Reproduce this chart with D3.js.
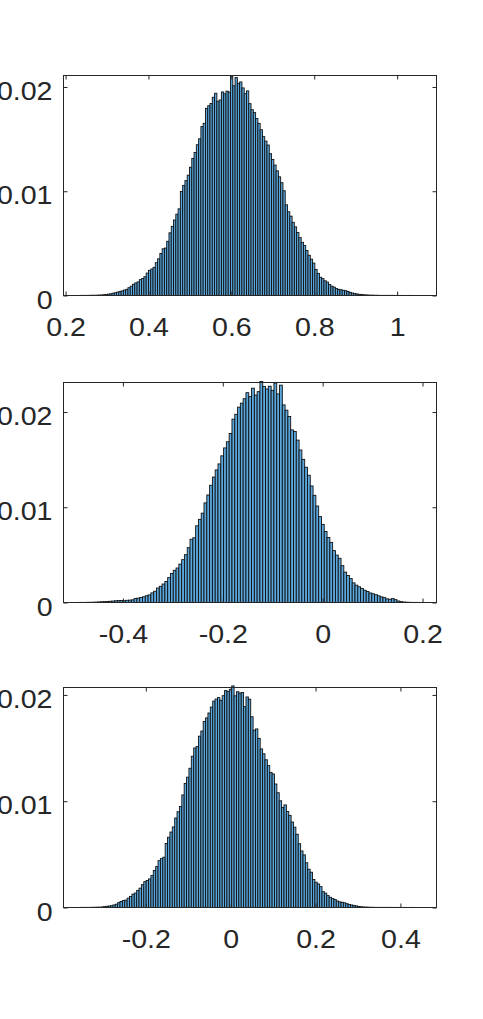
<!DOCTYPE html>
<html>
<head>
<meta charset="utf-8">
<script src="https://cdn.jsdelivr.net/npm/d3@7"></script>
<style>
body { margin: 0; background: #fff; }
</style>
</head>
<body>
<div id="my_dataviz"></div>
<script>
// bin heights are probabilities, written in units of 1e-4

// top histogram
var binStart1 = 0.235, binWidth1 = 0.0055;
var prob1 = [
 0.1,0.1,0.1,0.1,0.2,0.2,0.2,0.3,0.4,0.5,
 0.7,0.9,1.3,1.6,2.2,2.6,3.2,3.9,4.4,5.2,
 5.9,7.5,8.9,10.8,12.1,13.0,15.2,16.3,18.0,21.5,
 24.1,25.4,27.0,31.5,35.2,40.3,44.8,45.5,52.0,60.1,
 66.3,72.4,78.0,83.1,99.8,105.6,110.2,115.4,123.0,131.5,
 137.2,144.6,150.3,162.0,165.1,179.5,182.0,184.2,190.1,194.0,
 186.3,187.5,195.2,193.4,196.0,195.1,210.6,201.2,209.0,203.5,
 204.8,199.1,193.6,196.2,184.0,178.2,175.4,169.8,165.1,159.0,
 152.4,148.1,144.3,136.0,130.5,125.1,119.6,113.8,108.2,100.5,
 87.0,80.3,76.1,70.2,65.8,60.4,55.5,51.0,47.9,43.2,
 38.6,34.8,31.1,25.0,21.2,17.5,16.2,14.1,12.8,10.5,
 8.9,8.0,6.6,5.9,5.5,5.0,4.6,3.8,3.0,2.4,
 1.9,1.5,1.1,0.9,0.7,0.5,0.4,0.3,0.3,0.2,
 0.2,0.1,0.1,0.1,0.1,0.1,0.1,0.1,0.05,0.1,
 0.05,0.1,0.05,0.05,0.1,0.05,0.05,0.05,0.05,0.05
];
var xLim1 = [0.195, 1.095];
var yLim1 = [0, 0.0211];
var xTicks1 = [0.2, 0.4, 0.6, 0.8, 1];
var xTickLabels1 = ["0.2", "0.4", "0.6", "0.8", "1"];

// middle histogram
var binStart2 = -0.4896, binWidth2 = 0.0056;
var prob2 = [
 0.1,0.1,0.1,0.2,0.2,0.3,0.4,0.6,0.8,0.9,
 1.1,1.3,1.5,1.8,2.0,2.1,1.9,2.3,2.5,2.8,
 4.2,4.6,5.3,6.0,7.1,8.0,10.1,11.8,15.2,17.0,
 19.4,22.0,26.1,30.5,33.8,36.2,40.3,45.0,50.2,57.6,
 66.4,68.0,80.5,87.3,93.8,104.6,112.9,123.1,131.7,139.2,
 145.5,154.0,162.3,168.8,177.4,192.5,197.6,205.1,209.3,214.0,
 220.3,216.2,225.0,217.8,221.4,232.0,226.9,224.2,227.1,222.8,
 230.4,219.0,228.2,207.5,201.9,195.3,181.2,179.6,170.5,160.1,
 150.3,142.0,133.6,122.4,112.5,101.3,90.2,82.0,74.6,68.3,
 63.1,54.5,49.8,46.4,38.7,31.9,28.4,25.1,20.6,18.2,
 16.5,14.8,12.9,11.6,10.0,9.1,8.2,7.0,5.9,5.1,
 3.8,3.4,4.1,3.0,1.6,0.9,0.5,0.3,0.2,0.1,
 0.1,0.1
];
var xLim2 = [-0.519, 0.228];
var yLim2 = [0, 0.0231];
var xTicks2 = [-0.4, -0.2, 0, 0.2];
var xTickLabels2 = ["-0.4", "-0.2", "0", "0.2"];

// bottom histogram
var binStart3 = -0.356, binWidth3 = 0.0056;
var prob3 = [
 0.1,0.1,0.1,0.1,0.1,0.2,0.2,0.3,0.3,0.5,
 0.8,1.1,1.4,1.7,2.4,3.1,4.6,5.6,6.5,7.0,
 8.8,10.4,12.5,13.6,16.1,18.2,21.5,24.3,25.4,26.9,
 30.2,34.8,38.5,44.1,46.0,47.3,60.2,66.1,71.0,75.8,
 84.2,90.1,95.0,105.9,116.8,122.6,131.0,142.3,150.1,151.4,
 161.2,166.0,175.1,178.4,183.0,188.6,194.2,196.1,197.5,195.0,
 199.3,204.1,203.2,205.3,208.5,199.2,203.0,201.8,202.3,189.0,
 198.1,196.0,179.5,166.8,168.0,159.1,149.2,144.6,139.0,133.5,
 127.1,125.6,116.2,108.0,100.4,94.1,96.5,90.3,86.7,80.4,
 75.6,68.9,60.0,53.2,49.5,42.1,36.0,33.2,26.4,23.8,
 22.1,19.6,14.9,13.5,11.2,9.6,8.4,7.5,6.1,5.3,
 4.9,4.4,3.6,2.9,2.4,1.9,1.5,1.0,0.7,0.5,
 0.4,0.3,0.2,0.2,0.1,0.1,0.1,0.1,0.1,0.1,
 0.1,0.1,0.05,0.1,0.1,0.05,0.1,0.05,0.05,0.1,
 0.05,0.05,0.05
];
var xLim3 = [-0.394, 0.485];
var yLim3 = [0, 0.0207];
var xTicks3 = [-0.2, 0, 0.2, 0.4];
var xTickLabels3 = ["-0.2", "0", "0.2", "0.4"];

// shared y ticks
var yTicks = [0, 0.01, 0.02];
var yTickLabels = ["0", "0.01", "0.02"];

// table of panels built from the arrays above
var panels = [
  {start: binStart1, bw: binWidth1, prob: prob1, xlim: xLim1, ylim: yLim1, xticks: xTicks1, xlabels: xTickLabels1, top: 75.5},
  {start: binStart2, bw: binWidth2, prob: prob2, xlim: xLim2, ylim: yLim2, xticks: xTicks2, xlabels: xTickLabels2, top: 382.5},
  {start: binStart3, bw: binWidth3, prob: prob3, xlim: xLim3, ylim: yLim3, xticks: xTicks3, xlabels: xTickLabels3, top: 687.5}
];

var left = 63.5, width = 373, height = 220;
var ink = "#262626";
var fontSize = 25.5;
var textStretch = 1.12;

var svg = d3.select("#my_dataviz")
  .append("svg")
  .attr("width", 483)
  .attr("height", 1019);

panels.forEach(function(p) {
  var g = svg.append("g")
    .attr("transform", "translate(" + left + "," + p.top + ")");

  var x = d3.scaleLinear().domain(p.xlim).range([0, width]);
  var y = d3.scaleLinear().domain(p.ylim).range([height, 0]);

  // bars
  g.append("g")
    .selectAll("rect")
    .data(p.prob)
    .enter()
    .append("rect")
      .attr("x", function(d, i) { return x(p.start + i * p.bw); })
      .attr("width", function(d, i) { return x(p.start + (i + 1) * p.bw) - x(p.start + i * p.bw); })
      .attr("y", function(d) { return y(d * 1e-4); })
      .attr("height", function(d) { return y(0) - y(d * 1e-4); })
      .style("fill", "#5aa8de")
      .style("stroke", "#111")
      .style("stroke-width", 0.9);

  // bottom axis with labels, ticks pointing in
  g.append("g")
    .attr("transform", "translate(0," + height + ")")
    .call(d3.axisBottom(x).tickValues(p.xticks)
      .tickFormat(function(d, i) { return p.xlabels[i]; })
      .tickSizeInner(-4).tickSizeOuter(0).tickPadding(22))
    .call(function(a) { a.select(".domain").remove(); })
    .attr("font-size", fontSize)
    .attr("font-family", "'Liberation Sans', Arial, sans-serif")
    .style("color", ink);

  // top axis, ticks only
  g.append("g")
    .call(d3.axisTop(x).tickValues(p.xticks).tickFormat("")
      .tickSizeInner(-4).tickSizeOuter(0))
    .call(function(a) { a.select(".domain").remove(); })
    .style("color", ink);

  // left axis with labels
  g.append("g")
    .call(d3.axisLeft(y).tickValues(yTicks)
      .tickFormat(function(d, i) { return yTickLabels[i]; })
      .tickSizeInner(-4).tickSizeOuter(0).tickPadding(11))
    .call(function(a) { a.select(".domain").remove(); })
    .call(function(a) { a.selectAll("text").attr("dy", "0.49em"); })
    .attr("font-size", fontSize)
    .attr("font-family", "'Liberation Sans', Arial, sans-serif")
    .style("color", ink);

  // right axis, ticks only
  g.append("g")
    .attr("transform", "translate(" + width + ",0)")
    .call(d3.axisRight(y).tickValues(yTicks).tickFormat("")
      .tickSizeInner(-4).tickSizeOuter(0))
    .call(function(a) { a.select(".domain").remove(); })
    .style("color", ink);

  // box
  g.append("rect")
    .attr("width", width)
    .attr("height", height)
    .style("fill", "none")
    .style("stroke", ink)
    .style("stroke-width", 1);
});

// the labels in the picture are a bit wider than plain Arial
svg.selectAll("text").each(function() {
  var w = this.getComputedTextLength();
  d3.select(this)
    .attr("textLength", w * textStretch)
    .attr("lengthAdjust", "spacingAndGlyphs");
});
</script>
</body>
</html>
